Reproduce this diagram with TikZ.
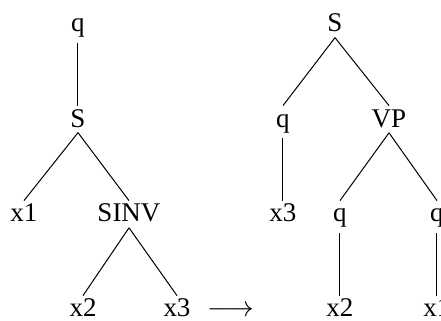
\documentclass[tikz,border=0pt]{standalone}
\usepackage{fontspec}
\setmainfont{Liberation Serif}
\usepackage{tikz}

\begin{document}
\begin{tikzpicture}[x=0.5pt, y=-0.5pt,
    font=\fontsize{13.5}{16}\selectfont,
    lbl/.style={anchor=base, text height=0.8em, inner xsep=0pt, inner ysep=2.5pt},
    br/.style={line width=0.5pt}]
  \clip (0,0) rectangle (441,321);
  % Arbre de gauche
  \node[lbl] (lq)    at (78,32)   {q};
  \node[lbl] (ls)    at (78,127)  {S};
  \node[lbl] (lx1)   at (24,222)  {x1};
  \node[lbl] (lsinv) at (129,222) {SINV};
  \node[lbl] (lx2)   at (83,317)  {x2};
  \node[lbl] (lx3)   at (177,317) {x3};
  % Fleche
  \node[lbl] (fl) at (231,317) {$\longrightarrow$};
  % Arbre de droite
  \node[lbl] (rs)  at (335,32)  {S};
  \node[lbl] (rqa) at (283,127) {q};
  \node[lbl] (rvp) at (389,127) {VP};
  \node[lbl] (rx3) at (283,222) {x3};
  \node[lbl] (rqb) at (340,222) {q};
  \node[lbl] (rqc) at (437,222) {q};
  \node[lbl] (rx2) at (340,317) {x2};
  \node[lbl] (rx1) at (437,317) {x1};
  % Branches
  \foreach \a/\b in {lq/ls, ls/lx1, ls/lsinv, lsinv/lx2, lsinv/lx3,
                     rs/rqa, rs/rvp, rqa/rx3, rvp/rqb, rvp/rqc, rqb/rx2, rqc/rx1}{
    \draw[br] (\a.south) -- (\b.north);
  }
\end{tikzpicture}
\end{document}
